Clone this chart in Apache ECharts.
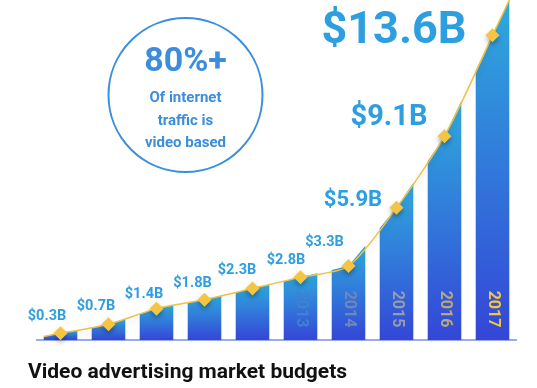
<!DOCTYPE html>
<html>
<head>
<meta charset="utf-8">
<script src="https://cdn.jsdelivr.net/npm/echarts@6/dist/echarts.min.js"></script>
<style>
html,body{margin:0;padding:0;background:#fff;}
#chart{width:537px;height:388px;}
</style>
</head>
<body>
<div id="chart"></div>
<script>
// ---- data ----
const years = ['2008','2009','2010','2011','2012','2013','2014','2015','2016','2017'];
const budgets = [0.3, 0.7, 1.4, 1.8, 2.3, 2.8, 3.3, 5.9, 9.1, 13.6];
const valueLabels = ['$0.3B','$0.7B','$1.4B','$1.8B','$2.3B','$2.8B','$3.3B','$5.9B','$9.1B','$13.6B'];
const titleText = 'Video advertising market budgets';
const calloutValue = '80%+';
const calloutText = ['Of internet', 'traffic is', 'video based'];

// ---- styles ----
const BLUE_TEXT = '#2d9ee0';
const FONT = 'Roboto, "DejaVu Sans", sans-serif';
const labelStyles = [
  {off:[-13.5,-16.5], size:14.5}, {off:[-12.5,-17.5], size:14.5}, {off:[-12.5,-14.5], size:14.5},
  {off:[-12,-16.5], size:14.5}, {off:[-15.5,-18.5], size:14.5}, {off:[-14.5,-16.5], size:14.5},
  {off:[-24,-24], size:14.5}, {off:[-43.5,-7], size:22}, {off:[-55.5,-18], size:29},
  {off:[-98.5,-3.5], size:45}
];
const yearColors = ['rgba(0,0,0,0)','rgba(0,0,0,0)','rgba(0,0,0,0)','rgba(0,0,0,0)','rgba(0,0,0,0)',
  '#4380d0','#7186bc','#959dab','#b9a77d','#f4c63d'];
const LINE_COLOR = '#f0c143';

const chart = echarts.init(document.getElementById('chart'), null, {renderer:'canvas'});

function barItem(params, api) {
  const i = params.dataIndex;
  const n = budgets.length;
  const p = api.coord([i, api.value(1)]);
  const base = api.coord([i, 0]);
  const band = api.size([1, 0])[0];
  const w = band * 0.7;
  const prev = i > 0 ? api.coord([i - 1, budgets[i - 1]]) : null;
  const next = i < n - 1 ? api.coord([i + 1, budgets[i + 1]]) : null;
  const sL = prev ? (p[1] - prev[1]) / (p[0] - prev[0]) : (next[1] - p[1]) / (next[0] - p[0]);
  const sR = next ? (next[1] - p[1]) / (next[0] - p[0]) : sL;
  const xL = p[0] - w / 2, xR = p[0] + w / 2;
  const yL = p[1] - sL * (w / 2), yR = p[1] + sR * (w / 2);
  const children = [{
    type: 'polygon',
    shape: { points: [[xL, base[1]], [xL, yL], [p[0], p[1]], [xR, yR], [xR, base[1]]] },
    style: {
      fill: new echarts.graphic.LinearGradient(0, 0, 0, 1, [
        { offset: 0, color: '#2eaadd' },
        { offset: 1, color: '#3446d7' }
      ])
    }
  }, {
    type: 'text',
    x: p[0], y: 309,
    rotation: -Math.PI / 2,
    style: {
      text: years[i], fill: yearColors[i], font: 'bold 16px ' + FONT,
      align: 'center', verticalAlign: 'middle'
    }
  }];
  if (i === 0) {
    children.push({ type: 'line', shape: { x1: xL, y1: yL, x2: p[0], y2: p[1] },
      style: { stroke: LINE_COLOR, lineWidth: 1.5 }, z2: 10 });
  }
  if (i === n - 1) {
    children.push({ type: 'line', shape: { x1: p[0], y1: p[1], x2: xR, y2: yR },
      style: { stroke: LINE_COLOR, lineWidth: 1.5 }, z2: 10 });
  }
  return { type: 'group', children };
}

const option = {
  backgroundColor: '#ffffff',
  animation: false,
  title: {
    text: titleText, left: 28, top: 361, padding: 0,
    textStyle: { fontFamily: FONT, fontWeight: 'bold', fontSize: 21, color: '#111', lineHeight: 24 }
  },
  grid: { left: 36.5, right: 20.5, top: 4, bottom: 48, containLabel: false },
  xAxis: {
    type: 'category', data: years, boundaryGap: true,
    axisLine: { show: true, lineStyle: { color: '#7b8ee9', width: 1.5 } },
    axisTick: { show: false }, axisLabel: { show: false }, splitLine: { show: false }
  },
  yAxis: { type: 'value', min: 0, max: 15, show: false, splitLine: { show: false } },
  graphic: [
    { type: 'circle', shape: { cx: 185.5, cy: 95, r: 77 },
      style: { fill: 'none', stroke: '#3b8fdc', lineWidth: 2 } },
    { type: 'text', x: 185.5, y: 62,
      style: { text: calloutValue, font: 'bold 34px ' + FONT, fill: '#3c8ddb', align: 'center', verticalAlign: 'middle' } },
    { type: 'text', x: 185.5, y: 98,
      style: { text: calloutText[0], font: 'bold 15px ' + FONT, fill: '#3c8ddb', align: 'center', verticalAlign: 'middle' } },
    { type: 'text', x: 185.5, y: 121,
      style: { text: calloutText[1], font: 'bold 15px ' + FONT, fill: '#3c8ddb', align: 'center', verticalAlign: 'middle' } },
    { type: 'text', x: 185.5, y: 143,
      style: { text: calloutText[2], font: 'bold 15px ' + FONT, fill: '#3c8ddb', align: 'center', verticalAlign: 'middle' } }
  ],
  series: [
    {
      type: 'custom', name: 'bars', z: 2,
      renderItem: barItem,
      encode: { x: 0, y: 1 },
      data: budgets.map((v, i) => [i, v])
    },
    {
      type: 'line', name: 'budget', z: 3,
      data: budgets.map((v, i) => ({
        value: v,
        label: {
          show: true, position: 'inside', offset: labelStyles[i].off,
          formatter: valueLabels[i], fontSize: labelStyles[i].size,
          fontFamily: FONT, fontWeight: 'bold', color: BLUE_TEXT,
          align: 'center', verticalAlign: 'middle'
        }
      })),
      smooth: 0.25,
      symbol: 'diamond', symbolSize: 14,
      lineStyle: { color: LINE_COLOR, width: 1.5, shadowColor: 'rgba(0,0,0,0.12)', shadowBlur: 6, shadowOffsetY: 4 },
      itemStyle: { color: '#f4c543', shadowColor: 'rgba(0,0,0,0.3)', shadowBlur: 5, shadowOffsetY: 3 }
    }
  ]
};
chart.setOption(option);
</script>
</body>
</html>
